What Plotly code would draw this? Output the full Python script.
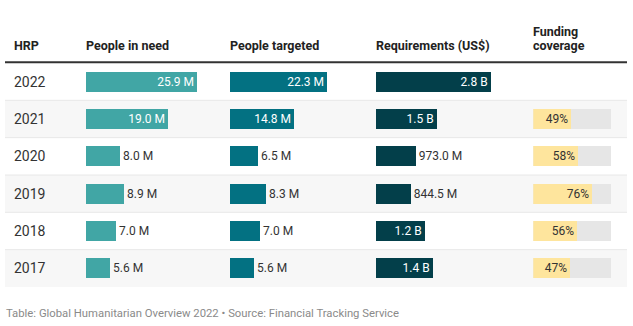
import plotly.graph_objects as go

W, H = 633, 326

years = ["2022", "2021", "2020", "2019", "2018", "2017"]
people_in_need = [25.9, 19.0, 8.0, 8.9, 7.0, 5.6]          # millions
people_targeted = [22.3, 14.8, 6.5, 8.3, 7.0, 5.6]         # millions
requirements = [2.8, 1.5, 0.973, 0.8445, 1.2, 1.4]         # billions US$
funding_coverage = [None, 49, 58, 76, 56, 47]              # percent

headers = ["HRP", "People in need", "People targeted", "Requirements (US$)", "Funding\ncoverage"]
footer = "Table: Global Humanitarian Overview 2022 • Source: Financial Tracking Service"

FONT = "Roboto"
C_NEED = "#41a6a5"
C_TARGET = "#037182"
C_REQ = "#033f4a"
C_FUND = "#fee59d"
C_FUND_BG = "#e6e6e6"
TXT = "#333333"

def px(x):
    return x / W

def py(y):
    return 1 - y / H

TABLE_TOP, TABLE_BOT = 63, 287
ROW_H = (TABLE_BOT - TABLE_TOP) / len(years)
BAR_W = 20 / ROW_H

cols = {
    "x": (86, 4.29, 30),
    "x2": (230, 4.33, 30),
    "x3": (375.7, 40.9, 3.5),
    "x4": (533.3, 0.777, 100),
}

def fmt_m(v):
    return f"{v:.1f} M"

def fmt_req(v):
    return f"{v:.1f} B" if v >= 1 else f"{v*1000:.1f} M"

def positions(vals, labels, scale):
    pos, colors = [], []
    for v, lab in zip(vals, labels):
        bar_px = v * scale
        text_px = len(lab) * 6.6
        if bar_px > text_px + 8:
            pos.append("inside"); colors.append("white")
        else:
            pos.append("outside"); colors.append(TXT)
    return pos, colors

fig = go.Figure()

def add_bar(vals, labels, xaxis, color):
    scale = cols[xaxis][1]
    pos, tc = positions(vals, labels, scale)
    fig.add_trace(go.Bar(
        y=years, x=vals, orientation="h", xaxis=xaxis, yaxis="y",
        marker=dict(color=color, line=dict(width=0)), width=BAR_W,
        text=labels, textposition=pos, insidetextanchor="end",
        textfont=dict(family=FONT, size=12, color=tc),
        constraintext="none", cliponaxis=False, hoverinfo="skip", showlegend=False,
    ))

add_bar(people_in_need, [fmt_m(v) for v in people_in_need], "x", C_NEED)
add_bar(people_targeted, [fmt_m(v) for v in people_targeted], "x2", C_TARGET)
add_bar(requirements, [fmt_req(v) for v in requirements], "x3", C_REQ)

fund_years = [y for y, f in zip(years, funding_coverage) if f is not None]
fund_vals = [f for f in funding_coverage if f is not None]
fig.add_trace(go.Bar(
    y=fund_years, x=[100] * len(fund_years), orientation="h", xaxis="x4", yaxis="y",
    marker=dict(color=C_FUND_BG, line=dict(width=0)), width=BAR_W,
    hoverinfo="skip", showlegend=False,
))
fig.add_trace(go.Bar(
    y=fund_years, x=fund_vals, orientation="h", xaxis="x4", yaxis="y",
    marker=dict(color=C_FUND, line=dict(width=0)), width=BAR_W,
    text=[f"{v:.0f}%" for v in fund_vals], textposition="inside", insidetextanchor="end",
    textfont=dict(family=FONT, size=12, color=TXT),
    constraintext="none", hoverinfo="skip", showlegend=False,
))

layout_axes = {}
for name, (start, scale, vmax) in cols.items():
    key = "xaxis" if name == "x" else "xaxis" + name[1:]
    layout_axes[key] = dict(
        domain=[px(start), px(start + scale * vmax)], range=[0, vmax],
        visible=False, fixedrange=True, anchor="y",
    )

shapes = []
for i, yr in enumerate(years):
    y0 = TABLE_TOP + i * ROW_H
    y1 = y0 + ROW_H
    if i % 2 == 1:
        shapes.append(dict(type="rect", xref="paper", yref="paper",
                           x0=px(5), x1=px(627), y0=py(y1), y1=py(y0),
                           fillcolor="#f7f7f7", line=dict(width=0), layer="below"))
    if i > 0:
        shapes.append(dict(type="line", xref="paper", yref="paper",
                           x0=px(5), x1=px(627), y0=py(y0), y1=py(y0),
                           line=dict(color="#e8e8e8", width=1), layer="below"))
shapes.append(dict(type="line", xref="paper", yref="paper",
                   x0=px(5), x1=px(627), y0=py(62.3), y1=py(62.3),
                   line=dict(color="#333333", width=2)))

annotations = []
head_x = [13, 85, 229, 375, 532]
for hx, h in zip(head_x, headers):
    lines = h.split("\n")
    for k, line in enumerate(lines):
        yc = 45.5 - (len(lines) - 1 - k) * 14.5
        annotations.append(dict(
            x=px(hx), y=py(yc), xref="paper", yref="paper", xanchor="left", yanchor="middle",
            text=f"<b>{line}</b>", showarrow=False, align="left", borderpad=0,
            font=dict(family=FONT, size=12.5, color="#222222"),
        ))
for i, yr in enumerate(years):
    annotations.append(dict(
        x=px(13), y=py(TABLE_TOP + (i + 0.5) * ROW_H), xref="paper", yref="paper",
        xanchor="left", yanchor="middle", borderpad=0,
        text=yr, showarrow=False, font=dict(family=FONT, size=14, color=TXT),
    ))
annotations.append(dict(
    x=px(5), y=py(313), xref="paper", yref="paper", xanchor="left", yanchor="middle",
    text=footer, showarrow=False, borderpad=0,
    font=dict(family=FONT, size=11.3, color="#8a8a8a"),
))

fig.update_layout(
    width=W, height=H, margin=dict(l=0, r=0, t=0, b=0),
    paper_bgcolor="white", plot_bgcolor="rgba(0,0,0,0)",
    barmode="overlay", bargap=0,
    yaxis=dict(type="category", categoryorder="array", categoryarray=years,
               range=[len(years) - 0.5, -0.5], domain=[py(TABLE_BOT), py(TABLE_TOP)],
               visible=False, fixedrange=True),
    shapes=shapes, annotations=annotations,
    font=dict(family=FONT),
    **layout_axes,
)

fig.write_html("out.html", config={"displayModeBar": False})
